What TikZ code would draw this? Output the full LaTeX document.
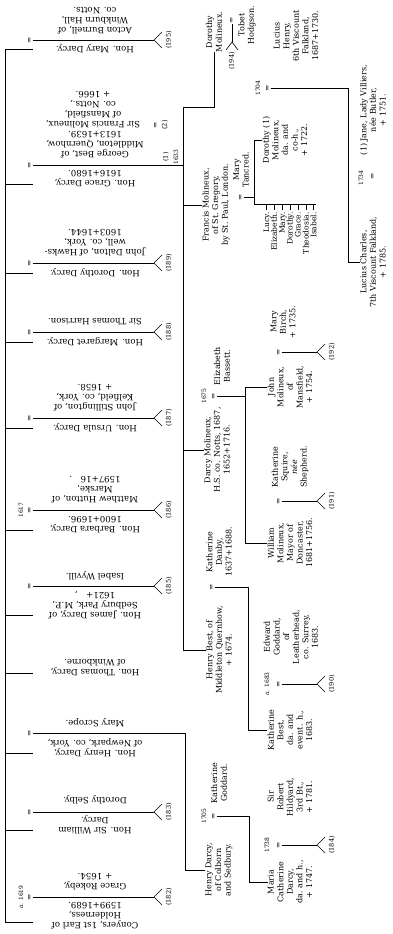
\documentclass[tikz,border=0pt]{standalone}
\usepackage{fontspec}
\setmainfont{DejaVu Serif}
\usepackage{tikz}
\usetikzlibrary{positioning,calc}

\begin{document}
\begin{tikzpicture}[x=1pt,y=-1pt,
  line width=0.6pt, color=black,
  every node/.style={inner sep=0pt},
  upname/.style={rotate=180, align=center, font=\fontsize{8.6}{10}\selectfont},
  sidename/.style={rotate=90, align=center, font=\fontsize{8}{9.6}\selectfont},
  eqs/.style={rotate=90, inner sep=0.6pt, font=\fontsize{7.5}{7.5}\selectfont},
  numb/.style={rotate=90, font=\fontsize{6.6}{6.6}\selectfont},
  yr/.style={rotate=90, font=\fontsize{6}{6}\selectfont}
]
\fill[white] (0,0) rectangle (393,934);
\useasboundingbox (0,0) rectangle (393,934);

% first row: the children, bar and ticks
\draw (5,49) -- (5,922);
\foreach \ty in {49,184,273,342,428,530,615,673,753,830,922}
  \draw (5,\ty) -- (33,\ty);

% marriages ending in a reference number
\foreach \my/\nr in {40/195,263/189,332/188,418/187,510/186,586/185,812/183,897/182}{
  \node[eqs] (eq\nr) at (30,\my) {=};
  \coordinate (v\nr) at (154,\my);
  \draw (eq\nr) -- (v\nr);
  \draw (v\nr) -- ++(8,-8) (v\nr) -- ++(8,8);
  \node[numb] (n\nr) at ($(v\nr)+(15,0)$) {(\nr)};
}

\node[upname] (mary) at (95,49) {Hon. Mary Darcy.};
\node[upname] (acton) at (95,21) {Acton Burnell, of\\Winkburn Hall,\\co. Notts.};

\node[upname] (grace) at (95,179) {Hon. Grace Darcy,\\1616+1680.};
\node[upname] (gbest) at (95,145) {George Best, of\\Middleton, Quernhow,\\1613+1639.};
\node[upname] (fmol) at (93,110) {Sir Francis Molineux,\\of Mansfield,\\co. Notts.,\\+ 1666.};
\node[eqs] (eqgrace) at (30,165) {=};
\node[numb] (n1) at (166,157) {(1)};
\node[yr] (y1633) at (176,157) {1633};
\node[eqs] (eq2) at (156,125) {=};
\node[numb] (n2) at (165,125) {(2)};

\node[upname] (dorothy) at (95,273) {Hon. Dorothy Darcy.};
\node[upname] (dalton) at (95,243) {John Dalton, of Hawks-\\well, co. York,\\1603+1644.};
\node[upname] (margaret) at (95,342) {Hon. Margaret Darcy.};
\node[upname] (harrison) at (95,322) {Sir Thomas Harrison.};
\node[upname] (ursula) at (95,428) {Hon. Ursula Darcy.};
\node[upname] (stillington) at (95,398) {John Stillington, of\\Kelfield, co. York,\\+ 1658.};
\node[upname] (barbara) at (95,525) {Hon. Barbara Darcy,\\1600+1696.};
\node[upname] (hutton) at (95,490) {Matthew Hutton, of\\Marske,\\1597+16\quad .};
\node[yr] (y1617) at (21,510) {1617};
\node[upname] (james) at (95,605) {Hon. James Darcy, of\\Sedbury Park, M.P.,\\1621+\quad ,};
\node[upname] (wyvill) at (95,576) {Isabel Wyvill.};
\node[upname] (thomas) at (95,668) {Hon. Thomas Darcy,\\of Winkborne.};
\node[upname] (henry) at (95,748) {Hon. Henry Darcy,\\of Newpark, co. York,};
\node[upname] (scrope) at (95,723) {Mary Scrope.};
\node[eqs] (eqhenry) at (30,733) {=};
\node[upname] (william) at (95,825) {Hon. Sir William\\Darcy.};
\node[upname] (selby) at (95,800) {Dorothy Selby.};
\node[upname] (conyers) at (95,916) {Conyers, 1st Earl of\\Holderness,\\1599+1689.};
\node[upname] (rokeby) at (95,882) {Grace Rokeby,\\+ 1654.};
\node[yr] (y1619) at (21,897) {\emph{a.} 1619};

% Grace Darcy's issue
\draw (eqgrace) -- (183,165);
\draw (183,107) -- (183,650);

\node[sidename] (dmol) at (214,32) {Dorothy\\Molineux.};
\node[eqs] (eq194) at (232,20) {=};
\node[sidename] (tobet) at (247,25) {Tobet\\Hodgson.};
\coordinate (v194) at (232,42);
\draw (eq194) -- (v194);
\draw (v194) -- ++(-6,8) (v194) -- ++(6,8);
\node[numb] (n194) at (232,61) {(194)};
\draw (183,107) -| (dmol.west);

\node[sidename] (francis) at (216,205) {Francis Molineux,\\of St.~Gregory,\\by St.~Paul, London.};
\node[sidename] (tancred) at (241,170) {Mary\\Tancred.};
\node[eqs] (eqft) at (241,197) {=};
\draw (183,205) -- (francis.north);
\draw (eqft) -- (254,197);
\draw (254,140) -- (254,204) -- (316,204);
\node[sidename] (dmol2) at (285,140) {Dorothy (1)\\Molineux,\\da. and\\co-h.,\\+ 1722.};
\draw (254,140) -- (dmol2.north);
\node[sidename, align=right, anchor=east, font=\fontsize{7.6}{7.9}\selectfont] (sisters) at (290,212)
  {Lucy.\\Elizabeth.\\Mary.\\Dorothy.\\Grace.\\Theodosia.\\Isabel.};
\foreach \i in {0,...,6}
  \draw (266.3+\i*7.9,204) -- ++(0,6);

\node[sidename] (lhenry) at (296,36) {Lucius\\Henry,\\6th Viscount\\Falkland,\\1687+1730.};
\node[eqs] (eq1704) at (268,88) {=};
\node[yr] (y1704) at (258,88) {1704};
\node[sidename] (jane) at (373,110) {(1) Jane, Lady Villiers,\\n\'{e}e Butler,\\+ 1751.};
\node[eqs] (eq1734) at (373,176) {=};
\node[yr] (y1734) at (361,178) {1734};
\node[sidename] (lcharles) at (373,262) {Lucius Charles,\\7th Viscount Falkland,\\+ 1785.};
\draw (eq1704) -- (348,88) |- (lcharles.north);

% Darcy Molineux and his issue
\node[sidename] (darcy) at (217,450) {Darcy Molineux,\\H.S. co. Notts, 1687,\\1652+1716.};
\node[sidename] (bassett) at (222,366) {Elizabeth\\Bassett.};
\node[eqs] (eq1675) at (214,396) {=};
\node[yr] (y1675) at (204,396) {1675};
\draw (183,450) -- (darcy.north);
\draw (eq1675) -- (245,396);
\draw (245,387) -- (245,543);

\node[sidename] (birch) at (283,322) {Mary\\Birch,\\+ 1735.};
\node[eqs] (eq192) at (279,352) {=};
\node[sidename] (john) at (290,387) {John\\Molineux,\\of\\Mansfield,\\+ 1754.};
\node[sidename] (squire) at (290,467) {Katherine\\Squire,\\\emph{n\'{e}e}\\Shepherd.};
\node[eqs] (eq191) at (279,501) {=};
\node[sidename] (wmol) at (290,543) {William\\Molineux,\\Mayor of\\Doncaster,\\1681+1756.};
\draw (245,387) -- (john.north);
\draw (245,543) -- (wmol.north);

% Henry Best and his issue
\node[sidename] (danby) at (219,552) {Katherine\\Danby,\\1637+1688.};
\node[eqs] (eqbd) at (212,587) {=};
\node[sidename] (hbest) at (219,650) {Henry Best, of\\Middleton Quernhow,\\+ 1674.};
\draw (183,650) -- (hbest.north);
\node[sidename] (edward) at (291,637) {Edward\\Goddard,\\of\\Leatherhead,\\co. Surrey,\\1683.};
\node[eqs] (eq190) at (279,684) {=};
\node[yr] (y1683) at (267,684) {\emph{a.} 1683};
\node[sidename] (kbest) at (290,730) {Katherine\\Best,\\da. and\\event. h.,\\1683.};
\draw (eqbd) -- (248,587) |- (kbest.north);

% Henry Darcy of Colborn
\node[sidename] (kgoddard) at (219,783) {Katherine\\Goddard.};
\node[eqs] (eq1705) at (214,816) {=};
\node[yr] (y1705) at (204,816) {1705};
\node[sidename] (hdarcy) at (219,870) {Henry Darcy,\\of Colborn\\and Sedbury.};
\draw (eqhenry) -- (185,733) |- (hdarcy.north);
\node[sidename] (hildyard) at (290,797) {Sir\\Robert\\Hildyard,\\3rd Bt.,\\+ 1781.};
\node[eqs] (eq184) at (279,845) {=};
\node[yr] (y1738) at (267,845) {1738};
\node[sidename] (maria) at (290,882) {Maria\\Catherine\\Darcy,\\da. and h.,\\+ 1747.};
\draw (eq1705) -- (249,816) |- (maria.north);

% third generation marriages ending in a reference number
\foreach \nr in {192,191,190,184}{
  \coordinate (v\nr) at ($(eq\nr)+(38,0)$);
  \draw (eq\nr) -- (v\nr);
  \draw (v\nr) -- ++(8,-8) (v\nr) -- ++(8,8);
  \node[numb] (n\nr) at ($(v\nr)+(15,0)$) {(\nr)};
}
\end{tikzpicture}
\end{document}
